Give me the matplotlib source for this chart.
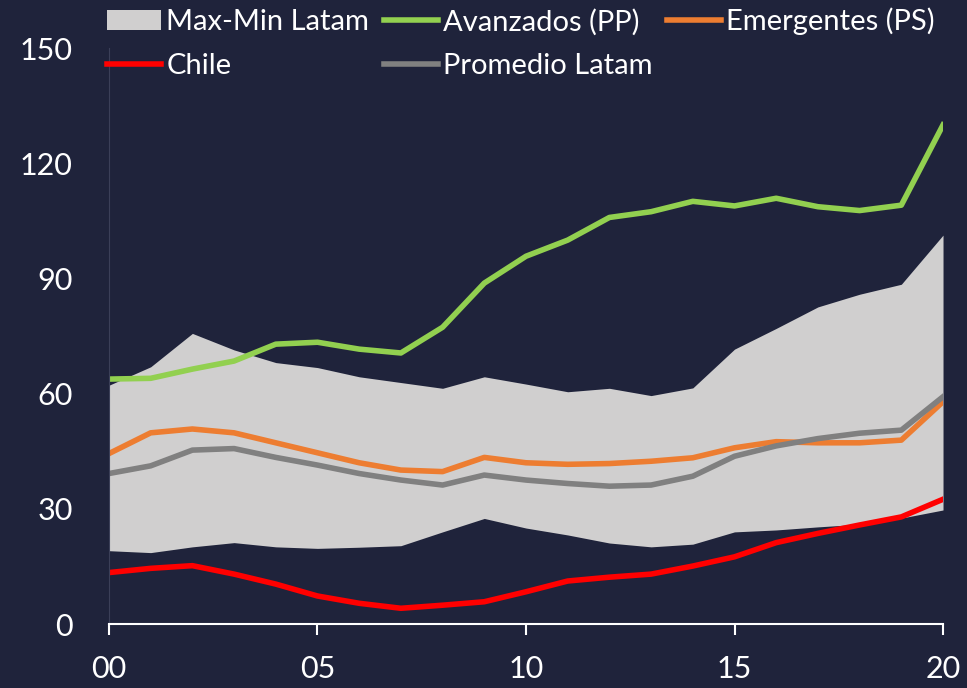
import numpy as np
import matplotlib.pyplot as plt

years = np.arange(0, 21)
tick_labels = ["00", "05", "10", "15", "20"]

latam_max = [62.2, 67.0, 75.7, 71.4, 68.1, 66.8, 64.4, 62.9, 61.4, 64.4, 62.5,
             60.5, 61.4, 59.5, 61.5, 71.6, 77.0, 82.6, 85.9, 88.5, 101.3]
latam_min = [19.1, 18.6, 20.1, 21.2, 20.1, 19.7, 20.0, 20.4, 24.0, 27.5, 25.0,
             23.2, 21.1, 20.1, 20.8, 24.0, 24.5, 25.3, 26.0, 27.6, 29.7]
avanzados = [63.8, 64.0, 66.4, 68.5, 72.9, 73.4, 71.6, 70.6, 77.3, 88.8, 95.8,
             100.0, 105.9, 107.4, 110.1, 108.9, 110.9, 108.7, 107.7, 109.1, 130.0]
emergentes = [44.4, 49.8, 50.8, 49.8, 47.2, 44.6, 42.0, 40.1, 39.7, 43.4, 42.0,
              41.6, 41.8, 42.4, 43.3, 45.9, 47.5, 47.2, 47.2, 47.9, 57.9]
chile = [13.4, 14.5, 15.2, 13.0, 10.4, 7.3, 5.4, 4.1, 4.9, 5.8, 8.4,
         11.2, 12.2, 13.0, 15.1, 17.5, 21.2, 23.6, 25.8, 27.9, 32.5]
promedio = [39.2, 41.2, 45.3, 45.7, 43.4, 41.4, 39.2, 37.5, 36.2, 38.8, 37.5,
            36.6, 35.9, 36.2, 38.5, 43.7, 46.4, 48.3, 49.7, 50.5, 59.2]

bg = "#1f233b"
plt.rcParams["font.family"] = ["Lato", "DejaVu Sans"]

fig = plt.figure(figsize=(9.67, 6.88), dpi=100, facecolor=bg)
ax = fig.add_axes([0.1127, 0.093, 0.8625, 0.837], facecolor=bg)

band = ax.fill_between(years, latam_min, latam_max, color="#d0cfcf", lw=0, label="Max-Min Latam")
l_av, = ax.plot(years, avanzados, color="#92d050", lw=4, label="Avanzados (PP)")
l_em, = ax.plot(years, emergentes, color="#ed7d31", lw=4, label="Emergentes (PS)")
l_pr, = ax.plot(years, promedio, color="#808080", lw=4, label="Promedio Latam")
l_ch, = ax.plot(years, chile, color="#ff0000", lw=4, label="Chile")

ax.set_xlim(0, 20)
ax.set_ylim(0, 150)
ax.set_yticks(range(0, 151, 30))
ax.set_xticks(range(0, 21, 5))
ax.set_xticklabels(tick_labels)

for s in ["top", "right"]:
    ax.spines[s].set_visible(False)
ax.spines["left"].set_color("#3b3f58")
ax.spines["left"].set_linewidth(0.8)
ax.spines["bottom"].set_color("white")
ax.spines["bottom"].set_linewidth(1.5)
ax.tick_params(axis="y", length=0, pad=26, colors="white", labelsize=22)
ax.tick_params(axis="x", length=8, width=1.5, direction="out", pad=14,
               colors="white", labelsize=22)

leg = fig.legend([band, l_ch, l_av, l_pr, l_em],
                 ["Max-Min Latam", "Chile", "Avanzados (PP)", "Promedio Latam", "Emergentes (PS)"],
                 ncol=3, loc="upper left", bbox_to_anchor=(0.108, 0.993),
                 frameon=False, fontsize=21, handlelength=1.85, handletextpad=0.17,
                 columnspacing=0.5, labelspacing=0.6, borderaxespad=0.0,
                 borderpad=0.1)
for t in leg.get_texts():
    t.set_color("white")

fig.savefig("out.png", dpi=100, facecolor=bg)
